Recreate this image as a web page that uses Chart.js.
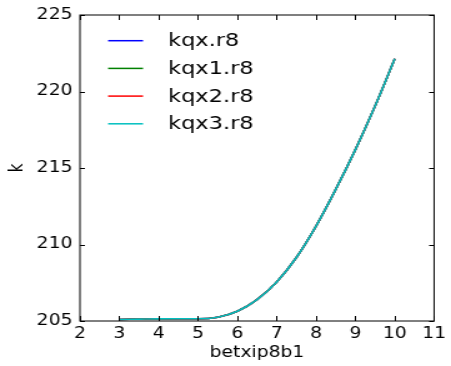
<!DOCTYPE html>
<html>
<head>
<meta charset="utf-8">
<script src="https://cdn.jsdelivr.net/npm/chart.js@4"></script>
<style>
  html, body { margin: 0; padding: 0; background: #fff; overflow: hidden; }
  /* the reference is stretched sideways, so draw narrow and stretch */
  #wrap { width: 361px; height: 366px; transform: scaleX(1.2493); transform-origin: 0 0; }
</style>
</head>
<body>
<div id="wrap"><canvas id="chart" width="361" height="366"></canvas></div>
<script>
const betx = [3, 3.5, 4, 4.5, 5, 5.5, 6, 6.5, 7, 7.5, 8, 8.5, 9, 9.5, 10]
const kqx  = [205.10, 205.12, 205.14, 205.15, 205.15, 205.25, 205.64, 206.40, 207.55, 209.15, 211.20, 213.60, 216.20, 219.05, 222.14]
const kqx1 = [205.10, 205.12, 205.14, 205.15, 205.15, 205.25, 205.64, 206.40, 207.55, 209.15, 211.20, 213.60, 216.20, 219.05, 222.14]
const kqx2 = [205.10, 205.12, 205.14, 205.15, 205.15, 205.25, 205.64, 206.40, 207.55, 209.15, 211.20, 213.60, 216.20, 219.05, 222.14]
const kqx3 = [205.10, 205.12, 205.14, 205.15, 205.15, 205.25, 205.64, 206.40, 207.55, 209.15, 211.20, 213.60, 216.20, 219.05, 222.14]
const names = ['kqx.r8', 'kqx1.r8', 'kqx2.r8', 'kqx3.r8']
const colors = ['#0000ff', '#008000', '#ff0000', '#00bfbf']
const xTicks = [2, 3, 4, 5, 6, 7, 8, 9, 10, 11]
const yTicks = [205, 210, 215, 220, 225]

const series = [kqx, kqx1, kqx2, kqx3]
const font = 'DejaVu Sans'

//inward ticks on all four sides plus the box
const frame = {
    id: 'frame',
    afterDraw(chart) {
        const ctx = chart.ctx
        const a = chart.chartArea
        const xs = chart.scales.x, ys = chart.scales.y
        ctx.save()
        ctx.strokeStyle = '#000'
        ctx.lineWidth = 1
        ctx.beginPath()
        xTicks.forEach(v => {
            const p = Math.round(xs.getPixelForValue(v)) + 0.5
            ctx.moveTo(p, a.bottom); ctx.lineTo(p, a.bottom - 5)
            ctx.moveTo(p, a.top); ctx.lineTo(p, a.top + 5)
        })
        yTicks.forEach(v => {
            const p = Math.round(ys.getPixelForValue(v)) + 0.5
            ctx.moveTo(a.left, p); ctx.lineTo(a.left + 4, p)
            ctx.moveTo(a.right, p); ctx.lineTo(a.right - 4, p)
        })
        ctx.stroke()
        ctx.strokeRect(a.left, a.top, a.right - a.left, a.bottom - a.top)
        ctx.restore()
    }
}

//legend inside the plot, upper left, no frame
const insideLegend = {
    id: 'insideLegend',
    afterDraw(chart) {
        const ctx = chart.ctx
        ctx.save()
        ctx.font = `18px "${font}"`
        ctx.textBaseline = 'middle'
        ctx.fillStyle = '#000'
        names.forEach((n, i) => {
            const y = 40.7 + i * 27.7
            ctx.strokeStyle = colors[i]
            ctx.lineWidth = 1.5
            ctx.beginPath()
            ctx.moveTo(86.5, y); ctx.lineTo(114.5, y)
            ctx.stroke()
            ctx.fillText(n, 134.5, y + 1)
        })
        ctx.restore()
    }
}

new Chart('chart', {
    type: 'line',
    data: {
        datasets: series.map((s, i) => ({
            label: names[i],
            data: betx.map((x, j) => ({x: x, y: s[j]})),
            borderColor: colors[i],
            borderWidth: 1.6,
            pointRadius: 0,
            cubicInterpolationMode: 'monotone',
            order: names.length - i //last one on top
        }))
    },
    options: {
        responsive: false,
        animation: false,
        events: [],
        layout: {padding: {left: 0, top: 15, right: 10.4, bottom: 0}},
        scales: {
            x: {
                type: 'linear',
                min: 2, max: 11,
                afterFit: s => { s.height = 45 },
                afterBuildTicks: s => { s.ticks = xTicks.map(v => ({value: v})) },
                grid: {display: false, drawTicks: false},
                border: {display: false},
                ticks: {color: '#000', font: {family: font, size: 15}, padding: 4, autoSkip: false, maxRotation: 0},
                title: {display: true, text: 'betxip8b1', color: '#000', font: {family: font, size: 15}, padding: {top: 0, bottom: 4}}
            },
            y: {
                min: 205, max: 225,
                afterFit: s => { s.width = 64 },
                afterBuildTicks: s => { s.ticks = yTicks.map(v => ({value: v})) },
                grid: {display: false, drawTicks: false},
                border: {display: false},
                ticks: {color: '#000', font: {family: font, size: 15}, padding: 6},
                title: {display: true, text: 'k', color: '#000', font: {family: font, size: 15}, padding: {top: 5, bottom: 0}}
            }
        },
        plugins: {
            legend: {display: false},
            tooltip: {enabled: false}
        }
    },
    plugins: [frame, insideLegend]
})
</script>
</body>
</html>
